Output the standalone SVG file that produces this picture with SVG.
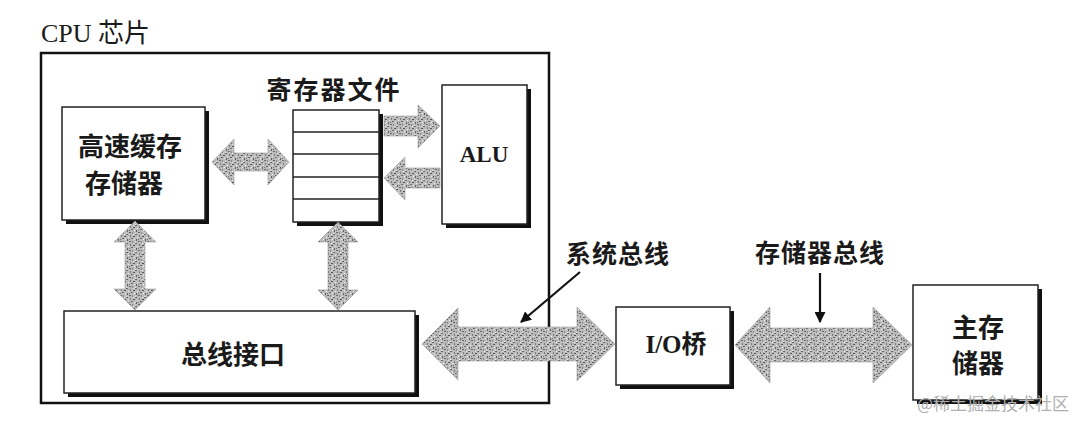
<svg xmlns="http://www.w3.org/2000/svg" width="1080" height="421" viewBox="0 0 1080 421">
<defs>
<pattern id="speck" width="9" height="9" patternUnits="userSpaceOnUse">
<rect width="9" height="9" fill="#bcbcbc"/>
<rect x="0" y="0" width="2" height="1" fill="#666"/>
<rect x="4" y="1" width="1" height="2" fill="#7a7a7a"/>
<rect x="7" y="2" width="2" height="1" fill="#555"/>
<rect x="2" y="3" width="1" height="1" fill="#eee"/>
<rect x="5" y="4" width="2" height="1" fill="#6a6a6a"/>
<rect x="1" y="5" width="1" height="2" fill="#606060"/>
<rect x="8" y="5" width="1" height="1" fill="#f4f4f4"/>
<rect x="3" y="7" width="2" height="1" fill="#686868"/>
<rect x="6" y="7" width="1" height="2" fill="#8a8a8a"/>
<rect x="0" y="8" width="1" height="1" fill="#eee"/>
<rect x="7" y="0" width="1" height="1" fill="#e8e8e8"/>
<rect x="3" y="5" width="1" height="1" fill="#777"/>
</pattern>
<marker id="ah" viewBox="0 0 10 10" refX="9" refY="5" markerWidth="5" markerHeight="5" orient="auto" markerUnits="strokeWidth">
<path d="M0,0 L10,5 L0,10 z" fill="#111"/>
</marker>
<style>
.box{fill:#fff;stroke:#222;stroke-width:1.5}
.sh{fill:#111}
.cjk{font-family:"Noto Sans CJK SC","Noto Sans",sans-serif;font-weight:bold;fill:#1a1a1a}
.ser{font-family:"Liberation Serif","Noto Sans CJK SC",serif;fill:#1a1a1a}
.bus{fill:url(#speck);stroke:#999;stroke-width:0.6}
.ptr{stroke:#111;stroke-width:2.2;fill:none;marker-end:url(#ah)}
</style>
</defs>
<rect width="1080" height="421" fill="#fff"/>

<g id="cpu-chip">
<text class="ser" x="41" y="42" font-size="26">CPU <tspan style="font-family:'Noto Sans CJK SC',sans-serif" font-size="26">芯片</tspan></text>
<rect x="41" y="53" width="508" height="350" fill="none" stroke="#111" stroke-width="2.5"/>
</g>

<g id="cache">
<rect class="sh" x="66" y="111" width="143" height="113"/>
<rect class="box" x="62" y="107" width="143" height="113"/>
<text class="cjk" x="130" y="144" font-size="26" text-anchor="middle" dominant-baseline="central">高速缓存</text>
<text class="cjk" x="124" y="181" font-size="26" text-anchor="middle" dominant-baseline="central">存储器</text>
</g>

<g id="register-file">
<text class="cjk" x="334" y="88" font-size="25" text-anchor="middle" dominant-baseline="central" letter-spacing="2">寄存器文件</text>
<rect class="sh" x="297" y="114" width="86" height="112"/>
<rect class="box" x="293" y="110" width="86" height="112"/>
<g stroke="#222" stroke-width="1.3">
<line x1="293" y1="132" x2="379" y2="132"/>
<line x1="293" y1="154" x2="379" y2="154"/>
<line x1="293" y1="177" x2="379" y2="177"/>
<line x1="293" y1="199" x2="379" y2="199"/>
</g>
</g>

<g id="alu">
<rect class="sh" x="446" y="89" width="85" height="139"/>
<rect class="box" x="442" y="85" width="85" height="139"/>
<text class="ser" x="484" y="162" font-size="23" font-weight="bold" text-anchor="middle">ALU</text>
</g>

<g id="bus-interface">
<rect class="sh" x="68" y="315" width="351" height="82"/>
<rect class="box" x="64" y="311" width="351" height="82"/>
<text class="cjk" x="233" y="352" font-size="26" text-anchor="middle" dominant-baseline="central">总线接口</text>
</g>

<g id="io-bridge">
<rect class="sh" x="620" y="311" width="114" height="78"/>
<rect class="box" x="616" y="307" width="114" height="78"/>
<text class="ser" x="676" y="353" font-size="25" font-weight="bold" text-anchor="middle">I/O<tspan style="font-family:'Noto Sans CJK SC',sans-serif">桥</tspan></text>
</g>

<g id="main-memory">
<rect class="sh" x="917" y="289" width="125" height="115"/>
<rect class="box" x="913" y="285" width="125" height="115"/>
<text class="cjk" x="978" y="325" font-size="26" text-anchor="middle" dominant-baseline="central">主存</text>
<text class="cjk" x="978" y="361" font-size="26" text-anchor="middle" dominant-baseline="central">储器</text>
</g>

<g id="labels">
<text class="cjk" x="618" y="252" font-size="25" text-anchor="middle" dominant-baseline="central" letter-spacing="1">系统总线</text>
<text class="cjk" x="820" y="251" font-size="25" text-anchor="middle" dominant-baseline="central" letter-spacing="1">存储器总线</text>
</g>

<g id="connectors">
<polygon class="bus" points="212,162 234,139 234,153 268,153 268,139 289,162 268,185 268,171 234,171 234,185"/>
<polygon class="bus" points="384,116 418,116 418,105 440,126 418,148 418,136 384,136"/>
<polygon class="bus" points="384,178 405,157 405,168 440,168 440,188 405,188 405,200"/>
<polygon class="bus" points="135,221 156,242 145,242 145,289 156,289 135,310 114,289 125,289 125,242 114,242"/>
<polygon class="bus" points="338,222 358,242 348,242 348,290 358,290 338,310 318,290 328,290 328,242 318,242"/>
<polygon class="bus" points="422,344 458,308 458,327 577,327 577,307 615,344 577,381 577,361 458,361 458,380"/>
<polygon class="bus" points="735,345 770,307 770,328 873,328 873,307 912,345 873,383 873,362 770,362 770,383"/>
<line class="ptr" x1="580" y1="272" x2="521" y2="322"/>
<line class="ptr" x1="820" y1="273" x2="820" y2="322"/>
</g>

<g id="watermark">
<text x="917" y="410" font-size="17" fill="#b0b0b0" style="font-family:'Noto Sans CJK SC',sans-serif">@稀土掘金技术社区</text>
</g>
</svg>
